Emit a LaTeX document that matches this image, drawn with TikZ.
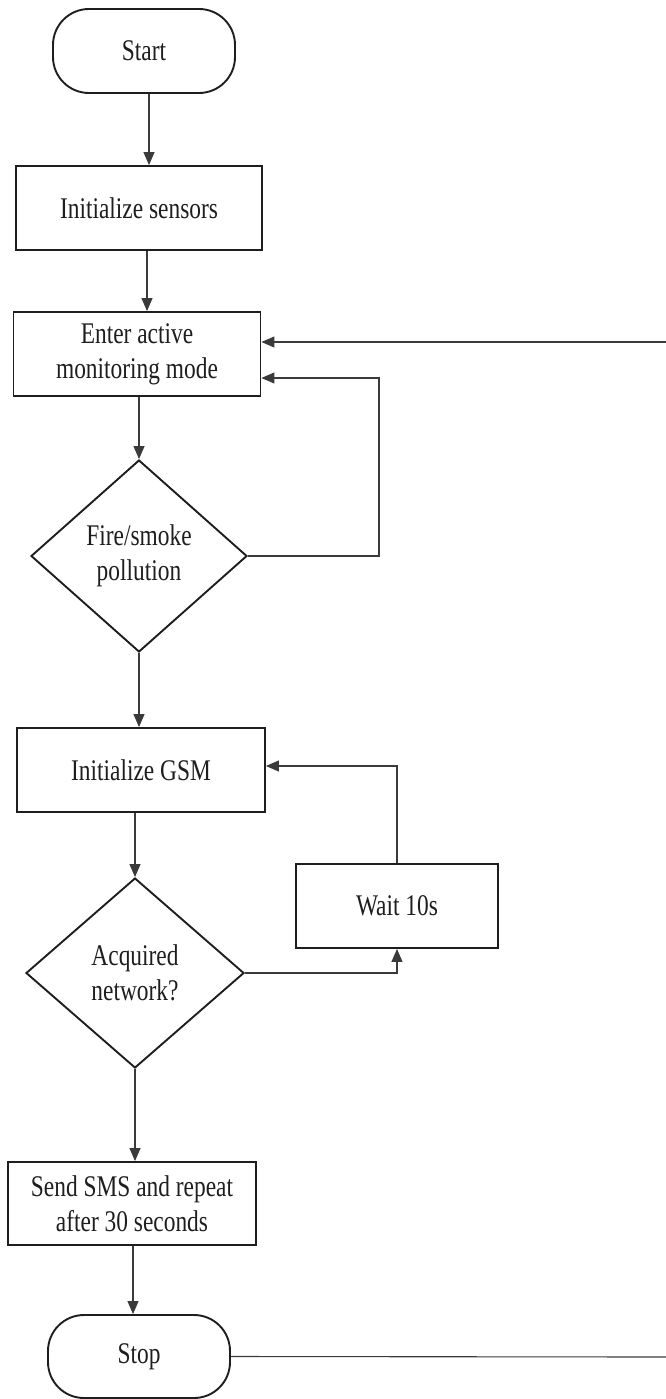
\documentclass[tikz,border=0pt]{standalone}
\usepackage{fontspec}
\setmainfont{Liberation Serif}[FakeStretch=0.78]
\usetikzlibrary{shapes.geometric,arrows.meta}
\definecolor{ink}{HTML}{1E1E1E}
\definecolor{wire}{HTML}{3A3A3A}
\tikzset{
  base/.style={draw=ink, line width=1.9pt, inner sep=0pt, align=center, text=ink,
    font=\fontsize{30}{35}\selectfont},
  terminal/.style={base, rectangle, rounded corners=36pt, minimum width=182pt, minimum height=84pt},
  procbox/.style={base, rectangle, minimum width=#1, minimum height=84pt},
  decision/.style={base, diamond, aspect=1.125, minimum width=216pt, minimum height=192pt},
  arr/.style={draw=wire, line width=1.1pt, -{Triangle[length=13pt,width=11pt]}},
  wireline/.style={draw=wire, line width=1.1pt}
}
\begin{document}
\begin{tikzpicture}[x=1pt,y=-1pt]
\useasboundingbox (0,0) rectangle (666,1399);
\node[terminal] (start) at (144,51) {Start};
\node[procbox=246pt] (init) at (139,208) {Initialize sensors};
\node[procbox=247pt] (enter) at (137,354) {Enter active\\monitoring mode};
\node[decision] (fire) at (139,556) {Fire/smoke\\pollution};
\node[procbox=248pt] (gsm) at (141,770) {Initialize GSM};
\node[procbox=202pt] (wait) at (397,906) {Wait 10s};
\node[decision, minimum width=218pt, minimum height=190pt] (acq) at (135,973) {Acquired\\network?};
\node[procbox=248pt, minimum height=83pt] (sms) at (132,1203.5) {Send SMS and repeat\\after 30 seconds};
\node[terminal, minimum height=83pt] (stop) at (139,1356.5) {Stop};
\coordinate (rin) at (666,342);
\coordinate (rout) at (666,1357);

\draw[arr] ([xshift=5pt]start.south) -- ([xshift=5pt]start.south |- init.north);
\draw[arr] ([xshift=8pt]init.south) -- ([xshift=8pt]init.south |- enter.north);
\draw[arr] (enter.south -| fire.north) -- (fire.north);
\draw[arr] (fire.south) -- (fire.south |- gsm.north);
\draw[arr] (gsm.south -| acq.north) -- (acq.north);
\draw[arr] (acq.south) -- (acq.south |- sms.north);
\draw[arr] ([xshift=1pt]sms.south) -- ([xshift=1pt]sms.south |- stop.north);

\draw[arr] (fire.east) -- ++(131,0) |- ([yshift=-24pt]enter.east);
\draw[arr] (rin) -- (rin -| enter.east);
\draw[arr] (acq.east) -| (wait.south);
\draw[arr] (wait.north) |- ([yshift=4pt]gsm.east);
\draw[wireline] (stop.east) -- (rout);
\end{tikzpicture}
\end{document}
